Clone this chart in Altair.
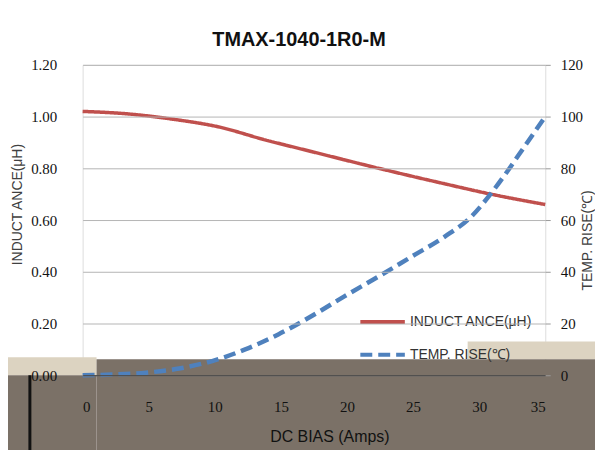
import altair as alt
import pandas as pd

# ---- data ----
amps_L = [0, 3.5, 6.8, 10.3, 13.8, 17.3, 22.4, 27.4, 30.9, 35]
induct = [1.02, 1.01, 0.99, 0.96, 0.91, 0.865, 0.80, 0.74, 0.70, 0.66]

amps_T = [0, 2.5, 4.8, 7.3, 9.8, 12.3, 14.8, 17.3, 19.8, 22.4, 24.9, 27.4, 29.4, 30.9, 32.1, 33.4, 35]
temp = [0, 0.3, 1, 2.6, 5.5, 10, 15.8, 22.8, 30.5, 38.2, 45.9, 53.6, 61.3, 70.3, 78.6, 88.2, 100]

series_names = ["INDUCT ANCE(μH)", "TEMP. RISE(℃)"]
series_colors = ["#c0504d", "#4f81bd"]
x_ticks = [0, 5, 10, 15, 20, 25, 30, 35]
left_ticks = [0, 0.2, 0.4, 0.6, 0.8, 1.0, 1.2]
right_ticks = [0, 20, 40, 60, 80, 100, 120]

df_L = pd.DataFrame({"amps": amps_L, "val": induct, "series": series_names[0]})
df_T = pd.DataFrame({"amps": amps_T, "val": temp, "series": series_names[1]})
one = pd.DataFrame({"k": [0]})

W, H = 465, 312
NUM_FONT = "Liberation Serif"
SANS = "Liberation Sans"

legend = alt.Legend(
    title=None, orient="none", legendX=277, legendY=234,
    symbolType="stroke", symbolSize=2000, symbolStrokeWidth=4,
    labelFont=SANS, labelFontSize=14, labelColor="#333333",
    rowPadding=-5, labelOffset=3,
)
color = alt.Color("series:N", scale=alt.Scale(domain=series_names, range=series_colors), legend=legend)
dash = alt.StrokeDash("series:N", scale=alt.Scale(domain=series_names, range=[[1, 0], [12, 6]]), legend=legend)

x_enc = alt.X(
    "amps:Q",
    scale=alt.Scale(domain=[0, 35], nice=False),
    axis=alt.Axis(
        values=x_ticks, grid=False, ticks=False, domain=True, domainColor="#333333",
        labelFont=NUM_FONT, labelFontSize=15, labelColor="#111111", labelPadding=24,
        title="DC BIAS  (Amps)", titleFont=SANS, titleFontSize=16, titleFontWeight="normal",
        titleColor="#111111", titleX=248, titleY=62, titleBaseline="middle", zindex=1,
    ),
)

ind_line = alt.Chart(df_L).mark_line(strokeWidth=3.5, interpolate="monotone").encode(
    x=x_enc,
    y=alt.Y(
        "val:Q",
        scale=alt.Scale(domain=[0, 1.2], nice=False),
        axis=alt.Axis(
            orient="left", values=left_ticks, format=".2f", grid=True, gridColor="#b4b4b4",
            ticks=False, domain=False, labelFont=NUM_FONT, labelFontSize=15, labelColor="#111111",
            labelPadding=26, title="INDUCT ANCE(μH)", titleFont=SANS,
            titleFontSize=14, titleFontWeight="normal", titleColor="#404040",
            titleX=-65, titleY=140, titleAngle=270, titleBaseline="middle", titleAlign="center",
            zindex=1,
        ),
    ),
    color=color,
    strokeDash=dash,
)

temp_line = alt.Chart(df_T).mark_line(strokeWidth=4.5, interpolate="monotone").encode(
    x=x_enc,
    y=alt.Y(
        "val:Q",
        scale=alt.Scale(domain=[0, 120], nice=False),
        axis=alt.Axis(
            orient="right", values=right_ticks, format="d", grid=False, ticks=True, tickSize=5,
            tickColor="#999999", domain=False, labelFont=NUM_FONT, labelFontSize=15,
            labelColor="#111111", labelPadding=10, title="TEMP. RISE(℃)",
            titleFont=SANS, titleFontSize=14, titleFontWeight="normal",
            titleColor="#404040", titleX=42, titleY=176, titleAngle=270,
            titleBaseline="middle", titleAlign="center", zindex=1,
        ),
    ),
    color=color,
    strokeDash=dash,
)

# ---- decorative band seen at the bottom of the reference image ----
def band(x1, x2, y1, y2, fill):
    return alt.Chart(one).mark_rect(color=fill).encode(
        x=alt.value(x1), x2=alt.value(x2), y=alt.value(y1), y2=alt.value(y2)
    )

bands = [
    band(-90, 14, 294, 312, "#dcd3c1"),
    band(387, 530, 278, 296, "#dcd3c1"),
    band(14, 530, 296, 400, "#7b7167"),
    band(-90, 14, 312, 400, "#7b7167"),
]
black_line = alt.Chart(one).mark_rule(color="#111111", strokeWidth=3).encode(
    x=alt.value(-53), y=alt.value(312), y2=alt.value(400)
)

chart = alt.layer(*bands, black_line, ind_line, temp_line).resolve_scale(
    y="independent"
).properties(
    width=W, height=H,
    title=alt.TitleParams(
        "TMAX-1040-1R0-M", font=SANS, fontSize=20, fontWeight="bold",
        color="#111111", anchor="middle", dx=-15, offset=8,
    ),
    autosize=alt.AutoSizeParams(type="none"),
    padding={"left": 75, "top": 56, "right": 50, "bottom": 74},
).configure_view(stroke="#a0a0a0", strokeWidth=1).configure(background="white")

chart.save("out.html", embed_options={"renderer": "svg", "actions": False})
